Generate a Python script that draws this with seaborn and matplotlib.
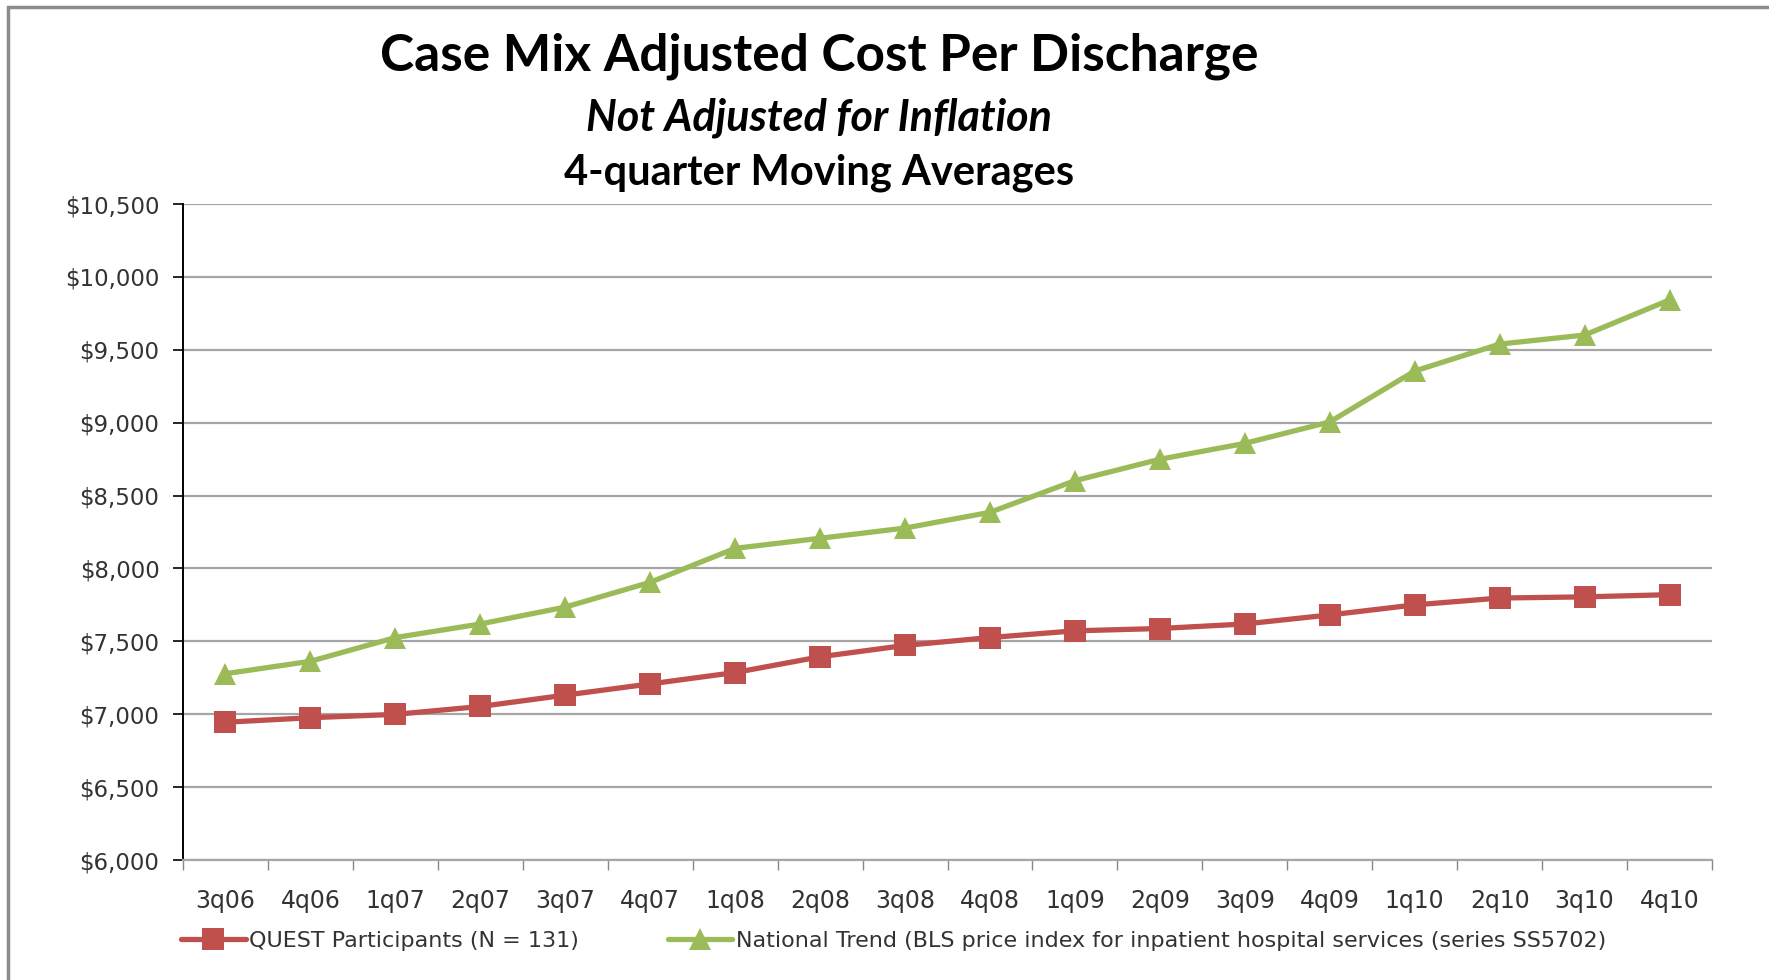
import pandas as pd
import seaborn as sns
import matplotlib.pyplot as plt
import matplotlib.ticker as ticker
from matplotlib.patches import Rectangle

quarters = ['3q06', '4q06', '1q07', '2q07', '3q07', '4q07', '1q08', '2q08', '3q08',
            '4q08', '1q09', '2q09', '3q09', '4q09', '1q10', '2q10', '3q10', '4q10']
quest = [6945, 6976, 6999, 7053, 7131, 7208, 7286, 7394, 7472,
         7526, 7572, 7588, 7619, 7681, 7750, 7797, 7805, 7820]
national = [7278, 7363, 7526, 7619, 7735, 7905, 8138, 8207, 8277,
            8385, 8602, 8749, 8858, 9005, 9354, 9539, 9601, 9842]
series_names = ['QUEST Participants (N = 131)',
                'National Trend (BLS price index for inpatient hospital services (series SS5702)']

df = pd.DataFrame({
    'pos': list(range(len(quarters))) * 2,
    'cost': quest + national,
    'series': [series_names[0]] * len(quarters) + [series_names[1]] * len(quarters),
})

sns.set_style('white')
plt.rcParams['font.family'] = ['DejaVu Sans']

fig = plt.figure(figsize=(17.69, 9.80), dpi=100)
ax = fig.add_axes([183 / 1769, 1 - 860 / 980, (1712 - 183) / 1769, (860 - 204) / 980])

sns.lineplot(data=df, x='pos', y='cost', hue='series', style='series',
             palette={series_names[0]: '#C0504D', series_names[1]: '#9BBB59'},
             markers={series_names[0]: 's', series_names[1]: '^'},
             dashes=False, linewidth=3.8, markersize=16, markeredgewidth=0,
             ax=ax)

ax.set_xlim(-0.5, len(quarters) - 0.5)
ax.set_ylim(6000, 10500)
ax.yaxis.set_major_locator(ticker.MultipleLocator(500))
ax.yaxis.set_major_formatter(ticker.FuncFormatter(lambda v, p: f'${v:,.0f}'))
ax.set_xticks(range(len(quarters)))
ax.set_xticklabels(quarters)
ax.set_xticks([i - 0.5 for i in range(len(quarters) + 1)], minor=True)
ax.tick_params(axis='x', which='major', length=0, pad=21, labelsize=17, colors='#333333')
ax.tick_params(axis='x', which='minor', length=7, color='#888888', width=1, direction='out', bottom=True)
ax.tick_params(axis='y', which='major', length=7, width=1.2, color='black', direction='out',
               left=True, labelsize=16.5, pad=10, labelcolor='#333333')
ax.set_xlabel('')
ax.set_ylabel('')
ax.grid(axis='y', color='#a6a6a6', linewidth=1.6)
ax.set_axisbelow(True)
for s in ['top', 'right']:
    ax.spines[s].set_visible(False)
ax.spines['left'].set_color('black')
ax.spines['left'].set_linewidth(1.4)
ax.spines['bottom'].set_color('#a6a6a6')
ax.spines['bottom'].set_linewidth(1.6)

handles, labels = ax.get_legend_handles_labels()
ax.legend(handles, labels, loc='upper left', bbox_to_anchor=(-0.007, -0.095), ncol=2,
          frameon=False, fontsize=16, handlelength=2.9, handletextpad=0.15,
          columnspacing=4.0, markerscale=0.95, borderaxespad=0, labelcolor='#333333')

fig.text(819 / 1769, 1 - 56 / 980, 'Case Mix Adjusted Cost Per Discharge', ha='center', va='center',
         fontsize=37, fontweight='bold', family=['Lato', 'DejaVu Sans'], color='black')
fig.text(819 / 1769, 1 - 118 / 980, 'Not Adjusted for Inflation', ha='center', va='center',
         fontsize=31, fontweight='bold', style='italic', family=['Lato', 'DejaVu Sans'], color='black')
fig.text(819 / 1769, 1 - 173 / 980, '4-quarter Moving Averages', ha='center', va='center',
         fontsize=30, fontweight='bold', family=['Lato', 'DejaVu Sans'], color='black')

# outer chart frame (cropped on right and bottom like the source)
fig.add_artist(Rectangle((8 / 1769, -0.1), 1.2, 1 - 7 / 980 + 0.1, transform=fig.transFigure,
                         fill=False, edgecolor='#8c8c8c', linewidth=2.5))

plt.savefig('out.png', dpi=100)
